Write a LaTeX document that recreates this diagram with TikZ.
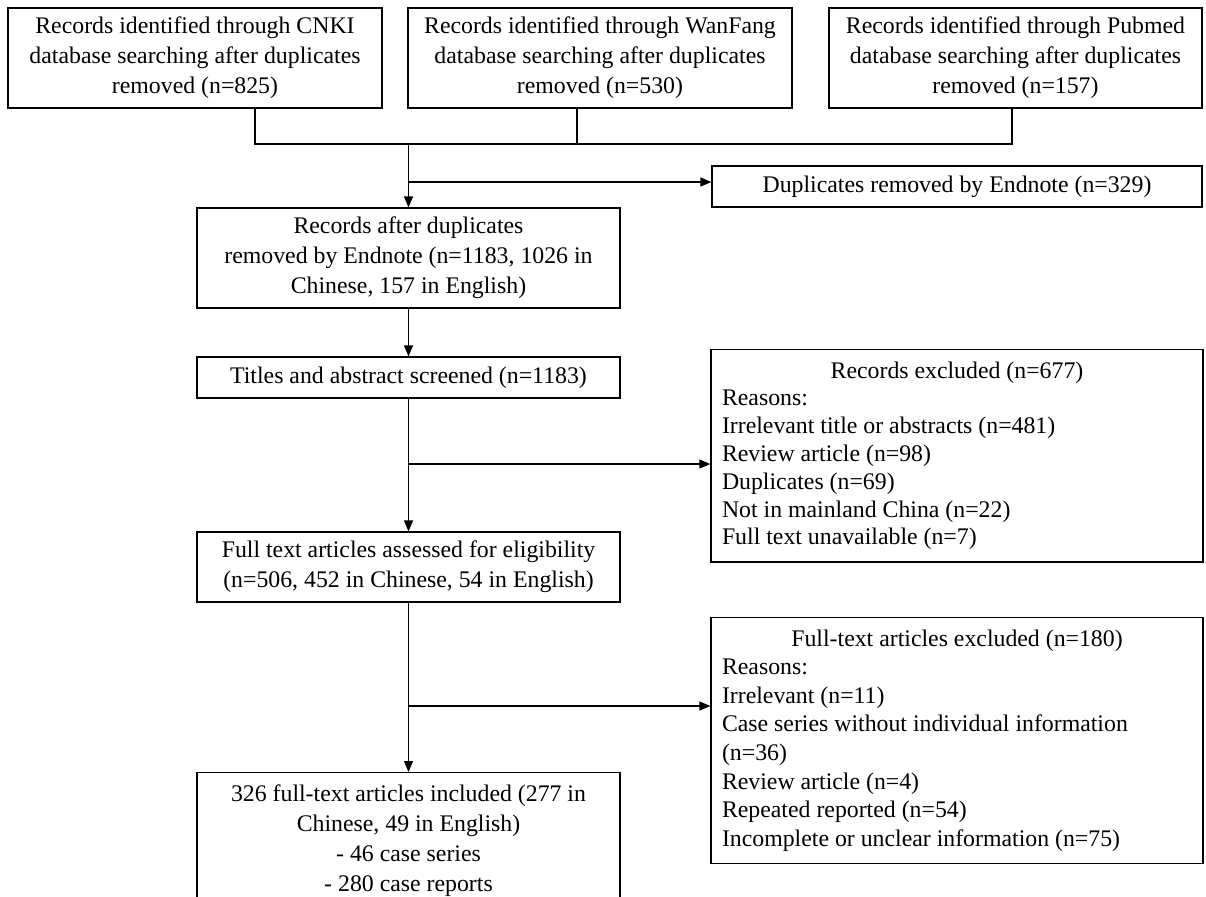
\documentclass[tikz,border=0pt]{standalone}
\usepackage{fontspec}
\setmainfont{Liberation Serif}
\usetikzlibrary{arrows.meta}

\begin{document}
\begin{tikzpicture}[
    x=0.5pt, y=-0.5pt,
    box/.style={
        draw, line width=0.6pt, inner sep=0pt,
        align=center, font=\fontsize{11.9}{15}\selectfont
      },
    listbox/.style={
        draw, line width=0.6pt, inner xsep=5.5pt, inner ysep=6pt,
        anchor=north, align=flush left, text width=#1,
        font=\fontsize{11.9}{13.9}\selectfont
      },
    flow/.style={
        line width=0.6pt,
        -{Triangle[length=5.5pt,width=4.5pt]}
      }
  ]
  \useasboundingbox (0,0) rectangle (1206,896);

  % 検索データベース
  \node[box, minimum width=187pt, minimum height=50pt] (cnki) at (195,58)
  {Records identified through CNKI\\ database searching after duplicates\\ removed (n=825)};
  \node[box, minimum width=192pt, minimum height=50pt] (wanfang) at (600,58)
  {Records identified through WanFang\\ database searching after duplicates\\ removed (n=530)};
  \node[box, minimum width=186.5pt, minimum height=50pt] (pubmed) at (1015.5,58)
  {Records identified through Pubmed\\ database searching after duplicates\\ removed (n=157)};

  % 中央の流れ
  \node[box, minimum width=211.5pt, minimum height=50pt] (after) at (408.5,258)
  {Records after duplicates\\ removed by Endnote (n=1183, 1026 in\\ Chinese, 157 in English)};
  \node[box, minimum width=211.5pt, minimum height=20.5pt] (titles) at (408.5,377.5)
  {Titles and abstract screened (n=1183)};
  \node[box, minimum width=211.5pt, minimum height=35pt] (fulltext) at (408.5,567)
  {Full text articles assessed for eligibility\\ (n=506, 452 in Chinese, 54 in English)};
  \node[box, minimum width=211.5pt, inner ysep=6.2pt, anchor=north] (included) at (408.5,772)
  {326 full-text articles included (277 in\\ Chinese, 49 in English)\\ - 46 case series\\ - 280 case reports\rule[-3pt]{0pt}{3pt}};

  % 除外された記録
  \node[box, minimum width=245pt, minimum height=20.5pt] (dup) at (957,186.5)
  {Duplicates removed by Endnote (n=329)};
  \node[listbox=235pt] (excl1) at (957,349)
  {\makebox[\linewidth]{Records excluded (n=677)}\\
    Reasons:\\
    Irrelevant title or abstracts (n=481)\\
    Review article (n=98)\\
    Duplicates (n=69)\\
    Not in mainland China (n=22)\\
    Full text unavailable (n=7)};
  \node[listbox=235pt, font=\fontsize{11.9}{14.3}\selectfont] (excl2) at (957,617)
  {\makebox[\linewidth]{Full-text articles excluded (n=180)}\\
    Reasons:\\
    Irrelevant (n=11)\\
    Case series without individual information\\
    (n=36)\\
    Review article (n=4)\\
    Repeated reported (n=54)\\
    Incomplete or unclear information (n=75)};

  % 座標の定義
  \coordinate (barL) at (255,144);
  \coordinate (barM) at (577,144);
  \coordinate (barR) at (1012,144);
  \coordinate (join) at (408.5,144);
  \coordinate (fork0) at (408.5,182);
  \coordinate (fork1) at (408.5,464);
  \coordinate (fork2) at (408.5,706);

  % 合流線
  \draw[line width=0.6pt] (cnki.south -| barL) -- (barL) -- (barR) -- (pubmed.south -| barR);
  \draw[line width=0.6pt] (wanfang.south -| barM) -- (barM);

  % 矢印
  \draw[flow] (join) -- (after.north);
  \draw[flow] (fork0) -- (fork0 -| dup.west);
  \draw[flow] (after.south) -- (titles.north);
  \draw[flow] (titles.south) -- (fulltext.north);
  \draw[flow] (fork1) -- (fork1 -| excl1.west);
  \draw[flow] (fulltext.south) -- (included.north);
  \draw[flow] (fork2) -- (fork2 -| excl2.west);
\end{tikzpicture}
\end{document}
